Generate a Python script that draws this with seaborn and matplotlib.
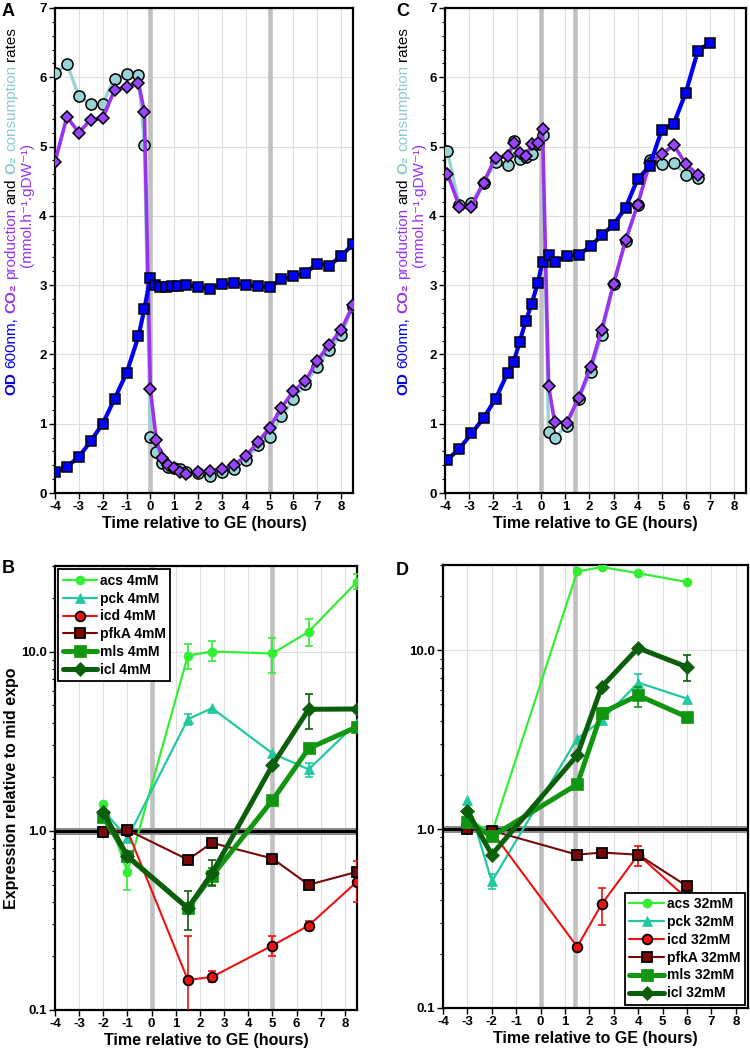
import matplotlib
matplotlib.use("Agg")
import matplotlib.pyplot as plt
import seaborn as sns
import numpy as np
from matplotlib.ticker import MultipleLocator, FixedLocator, FixedFormatter, LogLocator, NullFormatter
from matplotlib.transforms import IdentityTransform

# ---------------- data ----------------
# Panel A (4 mM)
od_a_x = [-4, -3.5, -3, -2.5, -2, -1.5, -1, -0.5, -0.25, 0, 0.2, 0.4, 0.65, 0.9, 1.15, 1.5,
          2, 2.5, 3, 3.5, 4, 4.5, 5, 5.5, 6, 6.5, 7, 7.5, 8, 8.5]
od_a = [0.30, 0.38, 0.52, 0.75, 1.00, 1.36, 1.73, 2.26, 2.66, 3.11, 3.00, 2.98, 2.97, 2.99, 2.99, 3.00,
        2.98, 2.95, 3.01, 3.03, 3.00, 2.99, 2.97, 3.09, 3.13, 3.17, 3.31, 3.28, 3.42, 3.59]
gas_a_x = [-4, -3.5, -3, -2.5, -2, -1.5, -1, -0.5, -0.25, 0, 0.25, 0.5, 0.75, 1.0, 1.25, 1.5,
           2, 2.5, 3, 3.5, 4, 4.5, 5, 5.5, 6, 6.5, 7, 7.5, 8, 8.5]
co2_a = [4.78, 5.43, 5.20, 5.39, 5.41, 5.82, 5.86, 5.92, 5.50, 1.50, 0.76, 0.50, 0.40, 0.36, 0.31, 0.27,
         0.30, 0.32, 0.34, 0.41, 0.53, 0.73, 0.94, 1.23, 1.47, 1.62, 1.91, 2.14, 2.35, 2.71]
o2_a = [6.06, 6.19, 5.73, 5.61, 5.62, 5.98, 6.05, 6.03, 5.02, 0.81, 0.59, 0.44, 0.38, 0.36, 0.34, 0.30,
        0.29, 0.25, 0.31, 0.35, 0.48, 0.69, 0.81, 1.11, 1.35, 1.58, 1.82, 2.07, 2.28, 2.69]

# Panel C (32 mM)
od_c_x = [-3.9, -3.4, -2.9, -2.4, -1.9, -1.4, -1.15, -0.9, -0.65, -0.4, -0.15, 0.05, 0.3, 0.55,
          1.05, 1.55, 2.05, 2.5, 3.0, 3.5, 4.0, 4.5, 5.0, 5.5, 6.0, 6.5, 7.0]
od_c = [0.48, 0.64, 0.86, 1.08, 1.36, 1.73, 1.89, 2.18, 2.48, 2.73, 3.03, 3.34, 3.43, 3.33,
        3.42, 3.44, 3.56, 3.72, 3.87, 4.12, 4.53, 4.72, 5.24, 5.33, 5.78, 6.38, 6.50]
gas_c_x = [-3.9, -3.4, -2.9, -2.4, -1.9, -1.4, -1.15, -0.9, -0.65, -0.4, -0.15, 0.05, 0.3, 0.55,
           1.05, 1.55, 2.05, 2.5, 3.0, 3.5, 4.0, 4.5, 5.0, 5.5, 6.0, 6.5]
co2_c = [4.61, 4.13, 4.13, 4.48, 4.84, 4.86, 5.05, 4.91, 4.86, 5.03, 5.05, 5.26, 1.55, 1.03,
         1.01, 1.37, 1.82, 2.35, 3.02, 3.65, 4.16, 4.76, 4.89, 5.02, 4.75, 4.59]
o2_c = [4.93, 4.15, 4.19, 4.48, 4.78, 4.74, 5.08, 4.82, 4.85, 4.90, 5.04, 5.17, 0.88, 0.80,
        0.97, 1.36, 1.74, 2.28, 3.01, 3.64, 4.16, 4.81, 4.75, 4.77, 4.59, 4.55]

# Panel B (4 mM expression)
b_x = [-2, -1, 1.5, 2.5, 5, 6.5, 8.5]
acs_b = [1.41, 0.59, 9.5, 10.0, 9.75, 12.9, 24.5]
pck_b = [1.30, 0.91, 4.19, 4.83, 2.70, 2.20, 4.00]
icd_b = [0.99, 1.00, 0.147, 0.153, 0.229, 0.296, 0.52]
pfka_b = [0.98, 1.01, 0.69, 0.856, 0.70, 0.50, 0.59]
mls_b = [1.19, 0.72, 0.37, 0.56, 1.48, 2.88, 3.80]
icl_b = [1.27, 0.72, 0.37, 0.58, 2.32, 4.76, 4.78]

# error bars B: x, low, high
acs_b_err = ([-1, 1.5, 2.5, 5, 6.5, 8.5], [0.47, 8.0, 8.8, 7.6, 10.8, 22.3], [0.72, 11.0, 11.4, 11.9, 15.1, 27.0])
pck_b_err = ([1.5, 6.5], [3.9, 2.0], [4.5, 2.4])
icd_b_err = ([1.5, 2.5, 5, 6.5, 8.5], [0.09, 0.143, 0.20, 0.28, 0.40], [0.26, 0.165, 0.26, 0.315, 0.68])
mls_b_err = ([2.5], [0.50], [0.62])
icl_b_err = ([1.5, 2.5, 6.5], [0.28, 0.49, 3.7], [0.46, 0.69, 5.8])

# Panel D (32 mM expression)
d_x = [-3, -2, 1.5, 2.5, 4, 6]
acs_d = [1.15, 0.95, 27.6, 29.2, 27.0, 24.1]
pck_d = [1.45, 0.51, 3.21, 4.06, 6.60, 5.37]
icd_d = [1.02, 0.97, 0.22, 0.38, 0.72, 0.41]
pfka_d = [1.00, 0.98, 0.72, 0.74, 0.72, 0.48]
mls_d = [1.10, 0.91, 1.78, 4.47, 5.60, 4.24]
icl_d = [1.26, 0.72, 2.59, 6.24, 10.3, 8.07]

pck_d_err = ([-2, 4], [0.46, 5.9], [0.56, 7.4])
icd_d_err = ([2.5, 4, 6], [0.29, 0.62, 0.38], [0.47, 0.81, 0.44])
mls_d_err = ([4], [4.8], [6.2])
icl_d_err = ([6], [6.7], [9.45])

x_ticks = list(range(-4, 9))
log_ticks = [0.1, 1.0, 10.0]
log_labels = ["0.1", "1.0", "10.0"]
genes = ["acs", "pck", "icd", "pfkA", "mls", "icl"]

# ---------------- style ----------------
sns.set_theme(style="ticks")
plt.rcParams["font.family"] = ["Liberation Sans", "DejaVu Sans"]
plt.rcParams["font.weight"] = "bold"
plt.rcParams["axes.unicode_minus"] = False
for k in ["text.color", "axes.labelcolor", "xtick.color", "ytick.color", "axes.edgecolor"]:
    plt.rcParams[k] = "black"

BLUE = "#0000ee"
PURPLE = "#9933ee"
TEAL = "#99d3d3"
gene_style = {
    "acs": dict(color="#33ee33", marker="o", markersize=6.5, linewidth=1.6, mec="#33ee33"),
    "pck": dict(color="#22c8a0", marker="^", markersize=7.5, linewidth=1.6, mec="#22c8a0"),
    "icd": dict(color="#ee1111", marker="o", markersize=7, linewidth=1.5, mec="black"),
    "pfkA": dict(color="#7a0808", marker="s", markersize=7, linewidth=1.5, mec="black"),
    "mls": dict(color="#129612", marker="s", markersize=8.5, linewidth=3.6, mec="#129612"),
    "icl": dict(color="#0b5e0b", marker="D", markersize=7, linewidth=3.6, mec="#0b5e0b"),
}

W, H = 750, 1053
fig = plt.figure(figsize=(W / 100, H / 100), dpi=100)


def box(l, t, r, b):
    return [l / W, 1 - b / H, (r - l) / W, (b - t) / H]


axA = fig.add_axes(box(55, 8, 353, 493))
axC = fig.add_axes(box(445, 8, 746, 493))
axB = fig.add_axes(box(55, 566, 357, 1010))
axD = fig.add_axes(box(443, 565, 748, 1008))


def base_style(ax, bands):
    ax.set_xlim(-4, 8.5)
    ax.xaxis.set_major_locator(FixedLocator(x_ticks))
    ax.grid(True, which="major", color="#dedede", linewidth=0.8)
    ax.set_axisbelow(True)
    for sp in ax.spines.values():
        sp.set_linewidth(1.6)
        sp.set_color("black")
    ax.tick_params(axis="both", which="major", direction="out", length=4, width=1,
                   labelsize=9.5, pad=2)
    ax.tick_params(axis="both", which="minor", direction="out", length=2.5, width=0.8)
    for b in bands:
        ax.axvline(b, color="#c0c0c0", linewidth=3.3, zorder=1)
    ax.set_xlabel("Time relative to GE (hours)", fontsize=11.5, fontweight="bold", labelpad=2)


def growth_panel(ax, odx, ody, gx, co2, o2, bands):
    base_style(ax, bands)
    sns.lineplot(x=gx, y=o2, ax=ax, color=TEAL, linewidth=2.4, marker="o", markersize=8,
                 markerfacecolor=TEAL, markeredgecolor="black", markeredgewidth=1.1,
                 estimator=None, sort=False, zorder=3)
    sns.lineplot(x=gx, y=co2, ax=ax, color=PURPLE, linewidth=2.6, marker="D", markersize=6,
                 markerfacecolor="#9944ff", markeredgecolor="black", markeredgewidth=1.1,
                 estimator=None, sort=False, zorder=4)
    sns.lineplot(x=odx, y=ody, ax=ax, color=BLUE, linewidth=3.0, marker="s", markersize=7.5,
                 markerfacecolor="#0000ff", markeredgecolor="black", markeredgewidth=1.1,
                 estimator=None, sort=False, zorder=5)
    ax.set_ylim(0, 7)
    ax.yaxis.set_major_locator(MultipleLocator(1))
    ax.yaxis.set_minor_locator(MultipleLocator(0.2))
    ax.set_ylabel("")


def expr_panel(ax, x, series, errs, bands, legend_loc, suffix):
    base_style(ax, bands)
    ax.set_yscale("log")
    ax.set_ylim(0.1, 30)
    ax.yaxis.set_major_locator(FixedLocator(log_ticks))
    ax.yaxis.set_major_formatter(FixedFormatter(log_labels))
    ax.yaxis.set_minor_locator(LogLocator(base=10, subs=np.arange(2, 10)))
    ax.yaxis.set_minor_formatter(NullFormatter())
    ax.axhline(1.0, color="#8a8a8a", linewidth=5, zorder=1.5)
    ax.axhline(1.0, color="black", linewidth=2.2, zorder=1.6)
    handles = []
    for g, y in zip(genes, series):
        st = gene_style[g]
        z = 4 if g in ("mls", "icl") else 3
        if g in errs:
            ex, lo, hi = errs[g]
            ey = [y[x.index(v)] for v in ex]
            yerr = [np.array(ey) - np.array(lo), np.array(hi) - np.array(ey)]
            ax.errorbar(ex, ey, yerr=yerr, fmt="none", ecolor=st["color"],
                        elinewidth=1.2, capsize=3, capthick=1.2, zorder=z)
        sns.lineplot(x=x, y=y, ax=ax, color=st["color"], linewidth=st["linewidth"],
                     marker=st["marker"], markersize=st["markersize"],
                     markerfacecolor=st["color"], markeredgecolor=st["mec"],
                     markeredgewidth=1.3 if st["mec"] == "black" else 0.5,
                     estimator=None, sort=False, zorder=z, label=f"{g} {suffix}")
        handles.append(ax.lines[-1])
    ax.set_ylabel("")
    leg = ax.legend(handles=handles, labels=[f"{g} {suffix}" for g in genes], loc=legend_loc,
                    prop={"weight": "bold", "size": 10}, frameon=True, fancybox=False,
                    edgecolor="black", framealpha=1, borderpad=0.3, labelspacing=0.28,
                    handlelength=2.5, handletextpad=0.2, borderaxespad=0.25)
    leg.get_frame().set_linewidth(1.3)
    leg.set_zorder(10)


growth_panel(axA, od_a_x, od_a, gas_a_x, co2_a, o2_a, [0, 5])
growth_panel(axC, od_c_x, od_c, gas_c_x, co2_c, o2_c, [0, 1.4])
expr_panel(axB, b_x, [acs_b, pck_b, icd_b, pfka_b, mls_b, icl_b],
           {"acs": acs_b_err, "pck": pck_b_err, "icd": icd_b_err, "mls": mls_b_err, "icl": icl_b_err},
           [0, 5], "upper left", "4mM")
expr_panel(axD, d_x, [acs_d, pck_d, icd_d, pfka_d, mls_d, icl_d],
           {"pck": pck_d_err, "icd": icd_d_err, "mls": mls_d_err, "icl": icl_d_err},
           [0, 1.4], "lower right", "32mM")

axB.set_ylabel("Expression relative to mid expo", fontsize=11.5, fontweight="bold", labelpad=1)

# panel letters
for letter, (px, py) in {"A": (2, 3), "B": (2, 560), "C": (396, 3), "D": (396, 562)}.items():
    fig.text(px / W, 1 - py / H, letter, ha="left", va="top", fontsize=13, fontweight="bold")

# multi-coloured rotated y labels
fig.canvas.draw()
renderer = fig.canvas.get_renderer()


def vlabel(xc, yc, parts, size):
    gap = 0.28 * size * 100 / 72
    objs = []
    for s, c, w in parts:
        t = fig.text(0, 0, s, rotation=90, color=c, fontweight=w, fontsize=size,
                     ha="center", va="bottom", transform=IdentityTransform())
        objs.append(t)
    lens = [t.get_window_extent(renderer).height for t in objs]
    total = sum(lens) + gap * (len(objs) - 1)
    y = (H - yc) - total / 2
    for t, L in zip(objs, lens):
        t.set_position((xc, y))
        y += L + gap


line1 = [("OD", BLUE, "bold"), ("600nm,", BLUE, "normal"), ("CO\u2082", PURPLE, "bold"),
         ("production", PURPLE, "normal"), ("and", "black", "normal"), ("O\u2082", "#8ccccc", "bold"),
         ("consumption", "#8ccccc", "normal"), ("rates", "black", "normal")]
line2 = [("(mmol.h\u207b\u00b9.gDW\u207b\u00b9)", PURPLE, "normal")]
for off in (0, 392):
    vlabel(11 + off, 211, line1, 11)
    vlabel(27 + off, 205, line2, 11)

fig.savefig("out.png", dpi=100)
